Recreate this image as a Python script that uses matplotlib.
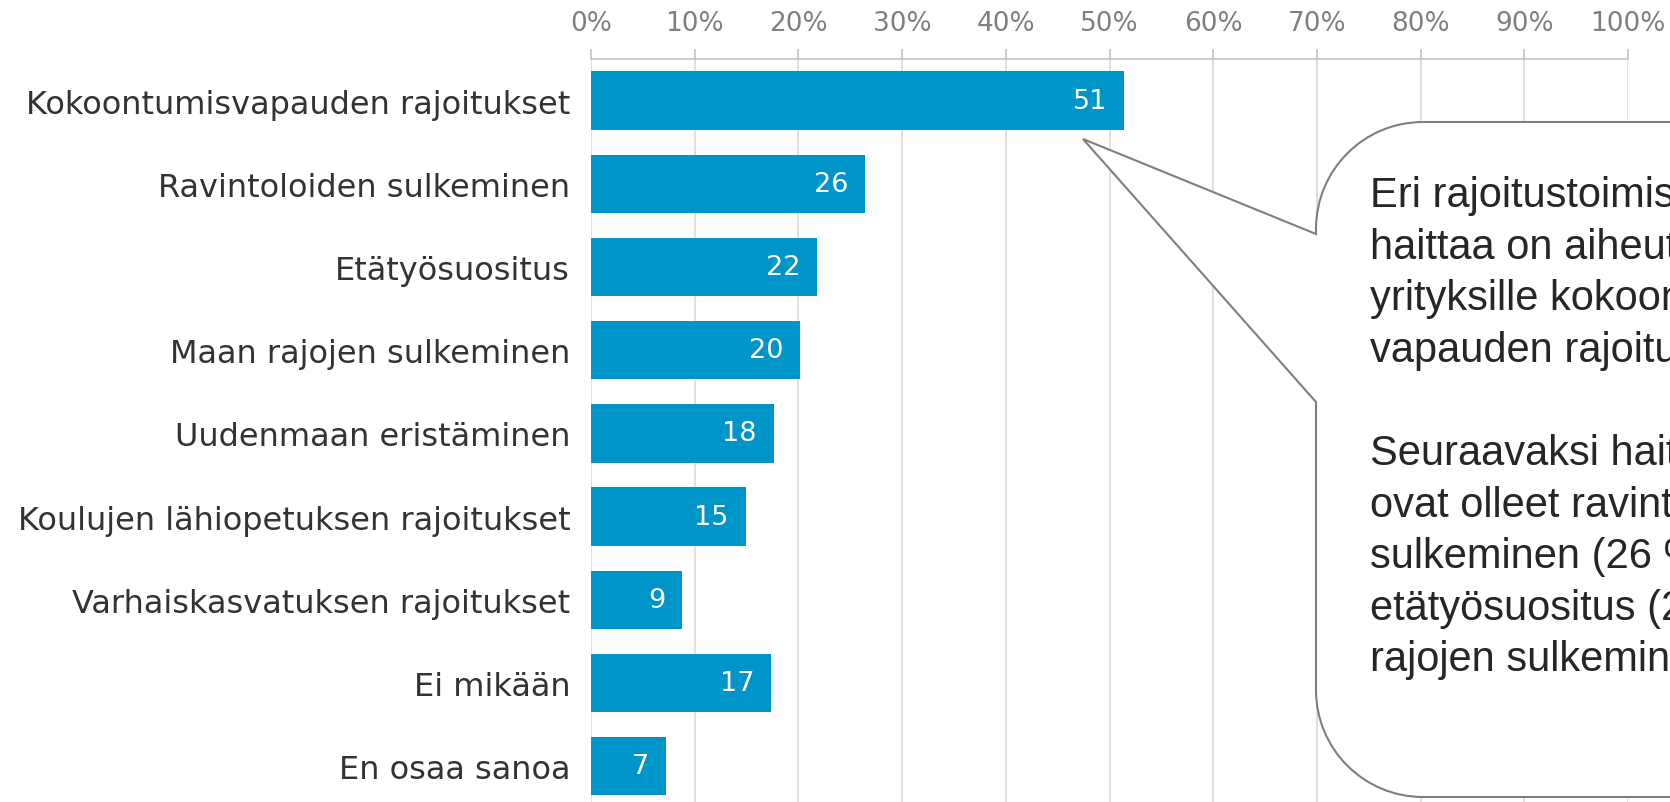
import logging

import matplotlib
matplotlib.use("Agg")
import matplotlib.pyplot as plt
from matplotlib.patches import PathPatch
from matplotlib.path import Path
from matplotlib.transforms import Affine2D

# =========================
# Logging setup
# =========================
logging.basicConfig(
    level=logging.INFO,
    format="%(asctime)s | %(levelname)s | %(message)s"
)
logger = logging.getLogger(__name__)


# =========================
# Data (% of companies)
# =========================
CATEGORIES = [
    "Kokoontumisvapauden rajoitukset",
    "Ravintoloiden sulkeminen",
    "Etätyösuositus",
    "Maan rajojen sulkeminen",
    "Uudenmaan eristäminen",
    "Koulujen lähiopetuksen rajoitukset",
    "Varhaiskasvatuksen rajoitukset",
    "Ei mikään",
    "En osaa sanoa",
]
SHARES = [51.4, 26.4, 21.8, 20.2, 17.6, 14.9, 8.8, 17.4, 7.2]

X_TICKS = [0, 10, 20, 30, 40, 50, 60, 70, 80, 90, 100]
X_TICK_LABELS = [f"{t}%" for t in X_TICKS]

# Callout text, the right part falls outside the picture like in the original
CALLOUT_LINES = [
    "Eri rajoitustoimista eniten",
    "haittaa on aiheutunut",
    "yrityksille kokoontumis-",
    "vapauden rajoituksista.",
    "",
    "Seuraavaksi haitallisimpia",
    "ovat olleet ravintoloiden",
    "sulkeminen (26 %),",
    "etätyösuositus (22 %) ja maan",
    "rajojen sulkeminen (20 %).",
]

# =========================
# Style
# =========================
WIDTH_PX, HEIGHT_PX = 1670, 803
DPI = 100
BAR_COLOR = "#0095C8"
LABEL_COLOR = "#333333"
TICK_COLOR = "#808080"
AXIS_COLOR = "#BFBFBF"
GRID_COLOR = "#D9D9D9"
CALLOUT_EDGE = "#7F7F7F"
CALLOUT_TEXT = "#262626"


def callout_path():
    """
    Build the rounded speech-bubble outline in pixel units (y pointing down).
    """
    left, top, bottom, right = 1316, 123, 798, 1900
    r = 107
    k = 0.5523 * r
    tip = (1083, 140)
    attach_top, attach_bottom = 235, 403

    verts = [
        (left, attach_top),
        (left, top + r),
        (left, top + r - k), (left + r - k, top), (left + r, top),
        (right, top),
        (right, bottom),
        (left + r, bottom),
        (left + r - k, bottom), (left, bottom - r + k), (left, bottom - r),
        (left, attach_bottom),
        tip,
        (left, attach_top),
    ]
    codes = [
        Path.MOVETO,
        Path.LINETO,
        Path.CURVE4, Path.CURVE4, Path.CURVE4,
        Path.LINETO,
        Path.LINETO,
        Path.LINETO,
        Path.CURVE4, Path.CURVE4, Path.CURVE4,
        Path.LINETO,
        Path.LINETO,
        Path.CLOSEPOLY,
    ]
    return Path(verts, codes)


def make_plot(output_file="out.png"):
    """
    Draw the horizontal bar chart with the callout box on the right.
    """
    plt.rcParams["font.family"] = ["DejaVu Sans"]

    fig = plt.figure(figsize=(WIDTH_PX / DPI, HEIGHT_PX / DPI), dpi=DPI)
    ax = fig.add_axes([
        591 / WIDTH_PX,
        0,
        1037 / WIDTH_PX,
        (HEIGHT_PX - 60) / HEIGHT_PX,
    ])

    y_pos = list(range(len(CATEGORIES)))
    bars = ax.barh(y_pos, SHARES, height=0.70, color=BAR_COLOR, zorder=2)

    for bar, value in zip(bars, SHARES):
        ax.annotate(
            f"{value:.0f}",
            xy=(bar.get_width(), bar.get_y() + bar.get_height() / 2),
            xytext=(-12, 0),
            textcoords="offset points",
            ha="right",
            va="center",
            color="white",
            fontsize=19.5,
            zorder=3,
        )

    ax.set_xlim(0, 100)
    ax.set_ylim(8.43, -0.5)

    ax.xaxis.tick_top()
    ax.set_xticks(X_TICKS)
    ax.set_xticklabels(X_TICK_LABELS)
    ax.set_yticks(y_pos)
    ax.set_yticklabels(CATEGORIES)

    ax.tick_params(axis="x", length=7.5, width=1.1, color=AXIS_COLOR,
                   labelcolor=TICK_COLOR, labelsize=19, pad=9)
    ax.tick_params(axis="y", length=0, labelcolor=LABEL_COLOR,
                   labelsize=23, pad=15)

    for side in ["bottom", "left", "right"]:
        ax.spines[side].set_visible(False)
    ax.spines["top"].set_color(AXIS_COLOR)
    ax.spines["top"].set_linewidth(1.1)

    ax.set_axisbelow(True)
    ax.xaxis.grid(True, color=GRID_COLOR, linewidth=1.1)

    # callout bubble drawn in pixel coordinates on top of the axes
    px = Affine2D().scale(1 / WIDTH_PX, -1 / HEIGHT_PX).translate(0, 1) + fig.transFigure
    bubble = PathPatch(
        callout_path(),
        facecolor="white",
        edgecolor=CALLOUT_EDGE,
        linewidth=1.5,
        joinstyle="miter",
        transform=px,
        zorder=5,
    )
    fig.add_artist(bubble)

    for i, line in enumerate(CALLOUT_LINES):
        if not line:
            continue
        fig.text(
            1370, 207 + i * 51.6, line,
            transform=px,
            fontsize=30,
            family=["Liberation Sans", "DejaVu Sans"],
            color=CALLOUT_TEXT,
            ha="left",
            va="baseline",
            zorder=6,
        )

    fig.savefig(output_file, dpi=DPI, facecolor="white")
    plt.close(fig)
    logger.info(f"Saved plot to {output_file}")


def main():
    make_plot("out.png")


if __name__ == "__main__":
    main()
